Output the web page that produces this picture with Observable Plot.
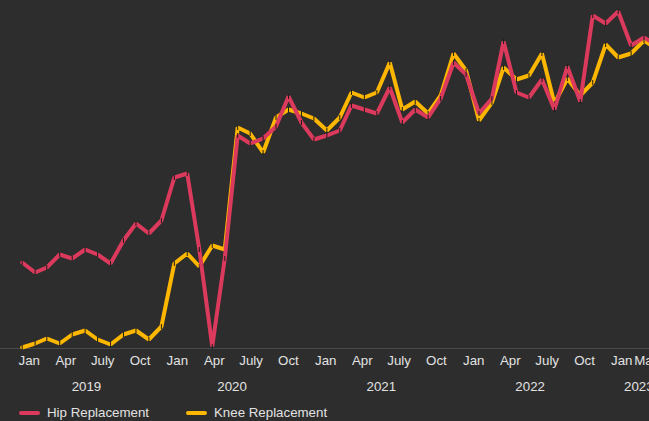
<!DOCTYPE html>
<html>
<head>
<meta charset="utf-8">
<script src="https://cdn.jsdelivr.net/npm/d3@7"></script>
<script src="https://cdn.jsdelivr.net/npm/@observablehq/plot@0.6"></script>
<style>
  html, body { margin: 0; padding: 0; background: #2d2d2d; }
  #chart { position: relative; width: 649px; height: 421px; overflow: hidden; background: #2d2d2d;
           font-family: "Liberation Sans", Arial, Helvetica, sans-serif; color: #e2e2e2; }
  #lines { position: absolute; left: 0; top: 0; }
  #axis { position: absolute; left: 0; top: 350px; }
  #legend { position: absolute; left: 0; top: 405px; width: 649px; height: 16px; }
  .item { position: absolute; top: 0; display: flex; align-items: center; font-size: 13.3px; line-height: 15px; white-space: nowrap; }
  .sw { display: inline-block; width: 21px; height: 4px; border-radius: 2px; margin-right: 7px; }
</style>
</head>
<body>
<div id="chart">
  <div id="lines"></div>
  <div id="axis"></div>
  <div id="legend"></div>
</div>
<script>
// ---- data (monthly, Jan 2019 – Mar 2023) ----
const months = d3.utcMonths(new Date(Date.UTC(2019, 0, 1)), new Date(Date.UTC(2023, 3, 1)));

const hipValues = [86, 76, 81, 94, 90, 99, 94, 85, 108, 125, 115, 128,
                   171, 175, 99, 2, 90, 213, 205, 210, 222, 252, 226, 209,
                   213, 218, 243, 239, 235, 261, 226, 239, 231, 250, 286, 274,
                   235, 250, 307, 256, 251, 269, 239, 282, 247, 333, 325, 337,
                   303, 311, 304];

const kneeValues = [1, 5, 10, 5, 14, 18, 9, 4, 14, 18, 9, 22,
                    85, 95, 82, 103, 99, 221, 215, 196, 231, 239, 235, 230,
                    218, 231, 256, 251, 256, 286, 239, 247, 235, 253, 295, 278,
                    228, 246, 281, 269, 273, 295, 245, 270, 253, 266, 304, 291,
                    295, 308, 300];

const seriesNames = ["Hip Replacement", "Knee Replacement"];
const seriesColors = ["#db3a5c", "#fdb700"];

const tickDates = ["2019-01-01", "2019-04-01", "2019-07-01", "2019-10-01",
                   "2020-01-01", "2020-04-01", "2020-07-01", "2020-10-01",
                   "2021-01-01", "2021-04-01", "2021-07-01", "2021-10-01",
                   "2022-01-01", "2022-04-01", "2022-07-01", "2022-10-01",
                   "2023-01-01", "2023-03-01"];
const tickLabels = ["Jan", "Apr", "July", "Oct", "Jan", "Apr", "July", "Oct",
                    "Jan", "Apr", "July", "Oct", "Jan", "Apr", "July", "Oct",
                    "Jan", "Mar"];

const yearLabels = ["2019", "2020", "2021", "2022", "2023"];
const yearCenters = ["2019-05-22", "2020-05-15", "2021-05-18", "2022-05-20", "2023-02-12"];

// ---- tables ----
const hipRows = months.map((date, i) => ({date, series: seriesNames[0], value: hipValues[i]}));
const kneeRows = months.map((date, i) => ({date, series: seriesNames[1], value: kneeValues[i]}));
const tickRows = tickDates.map((d, i) => ({date: new Date(d), label: tickLabels[i]}));
const yearRows = yearLabels.map((y, i) => ({date: new Date(yearCenters[i]), label: y}));

const fontFamily = "'Liberation Sans', Arial, Helvetica, sans-serif";
const vertexTick = {draw(ctx) { ctx.moveTo(0, -2.5); ctx.lineTo(0, 2.5); }};

// ---- lines plot ----
const linesPlot = Plot.plot({
  width: 649,
  height: 350,
  marginTop: 0, marginRight: 0, marginBottom: 2, marginLeft: 0,
  style: {background: "transparent", fontFamily},
  x: {type: "utc", domain: [months[0], months[months.length - 1]], range: [21.7, 655.2], axis: null},
  y: {domain: [0, 348], axis: null},
  color: {domain: seriesNames, range: seriesColors},
  marks: [
    Plot.ruleY([0], {stroke: "#4a4a4a", strokeWidth: 1}),
    Plot.line(kneeRows, {x: "date", y: "value", stroke: "series", strokeWidth: 4, strokeLinejoin: "miter"}),
    Plot.dot(kneeRows, {x: "date", y: "value", symbol: vertexTick, stroke: "#1c1c1c", strokeWidth: 1, fill: "none"}),
    Plot.line(hipRows, {x: "date", y: "value", stroke: "series", strokeWidth: 4, strokeLinejoin: "miter"}),
    Plot.dot(hipRows, {x: "date", y: "value", symbol: vertexTick, stroke: "#1c1c1c", strokeWidth: 1, fill: "none"})
  ]
});
document.getElementById("lines").appendChild(linesPlot);

// ---- axis plot (month + year labels) ----
const axisPlot = Plot.plot({
  width: 649,
  height: 50,
  marginTop: 0, marginRight: 0, marginBottom: 0, marginLeft: 0,
  style: {background: "transparent", fontFamily},
  x: {type: "utc", domain: [new Date("2019-01-01"), new Date("2023-01-01")], range: [28.8, 621.3], axis: null},
  marks: [
    Plot.text(tickRows, {x: "date", text: "label", frameAnchor: "top", lineAnchor: "top", dy: 5, fill: "#e2e2e2", fontSize: 13.3}),
    Plot.text(yearRows, {x: "date", text: "label", frameAnchor: "top", lineAnchor: "top", dy: 31, fill: "#e2e2e2", fontSize: 13.3})
  ]
});
document.getElementById("axis").appendChild(axisPlot);

// ---- legend ----
const legendLefts = [19, 186];
const legend = document.getElementById("legend");
seriesNames.forEach((name, i) => {
  const item = document.createElement("div");
  item.className = "item";
  item.style.left = legendLefts[i] + "px";
  const sw = document.createElement("span");
  sw.className = "sw";
  sw.style.background = seriesColors[i];
  item.appendChild(sw);
  item.appendChild(document.createTextNode(name));
  legend.appendChild(item);
});
</script>
</body>
</html>
